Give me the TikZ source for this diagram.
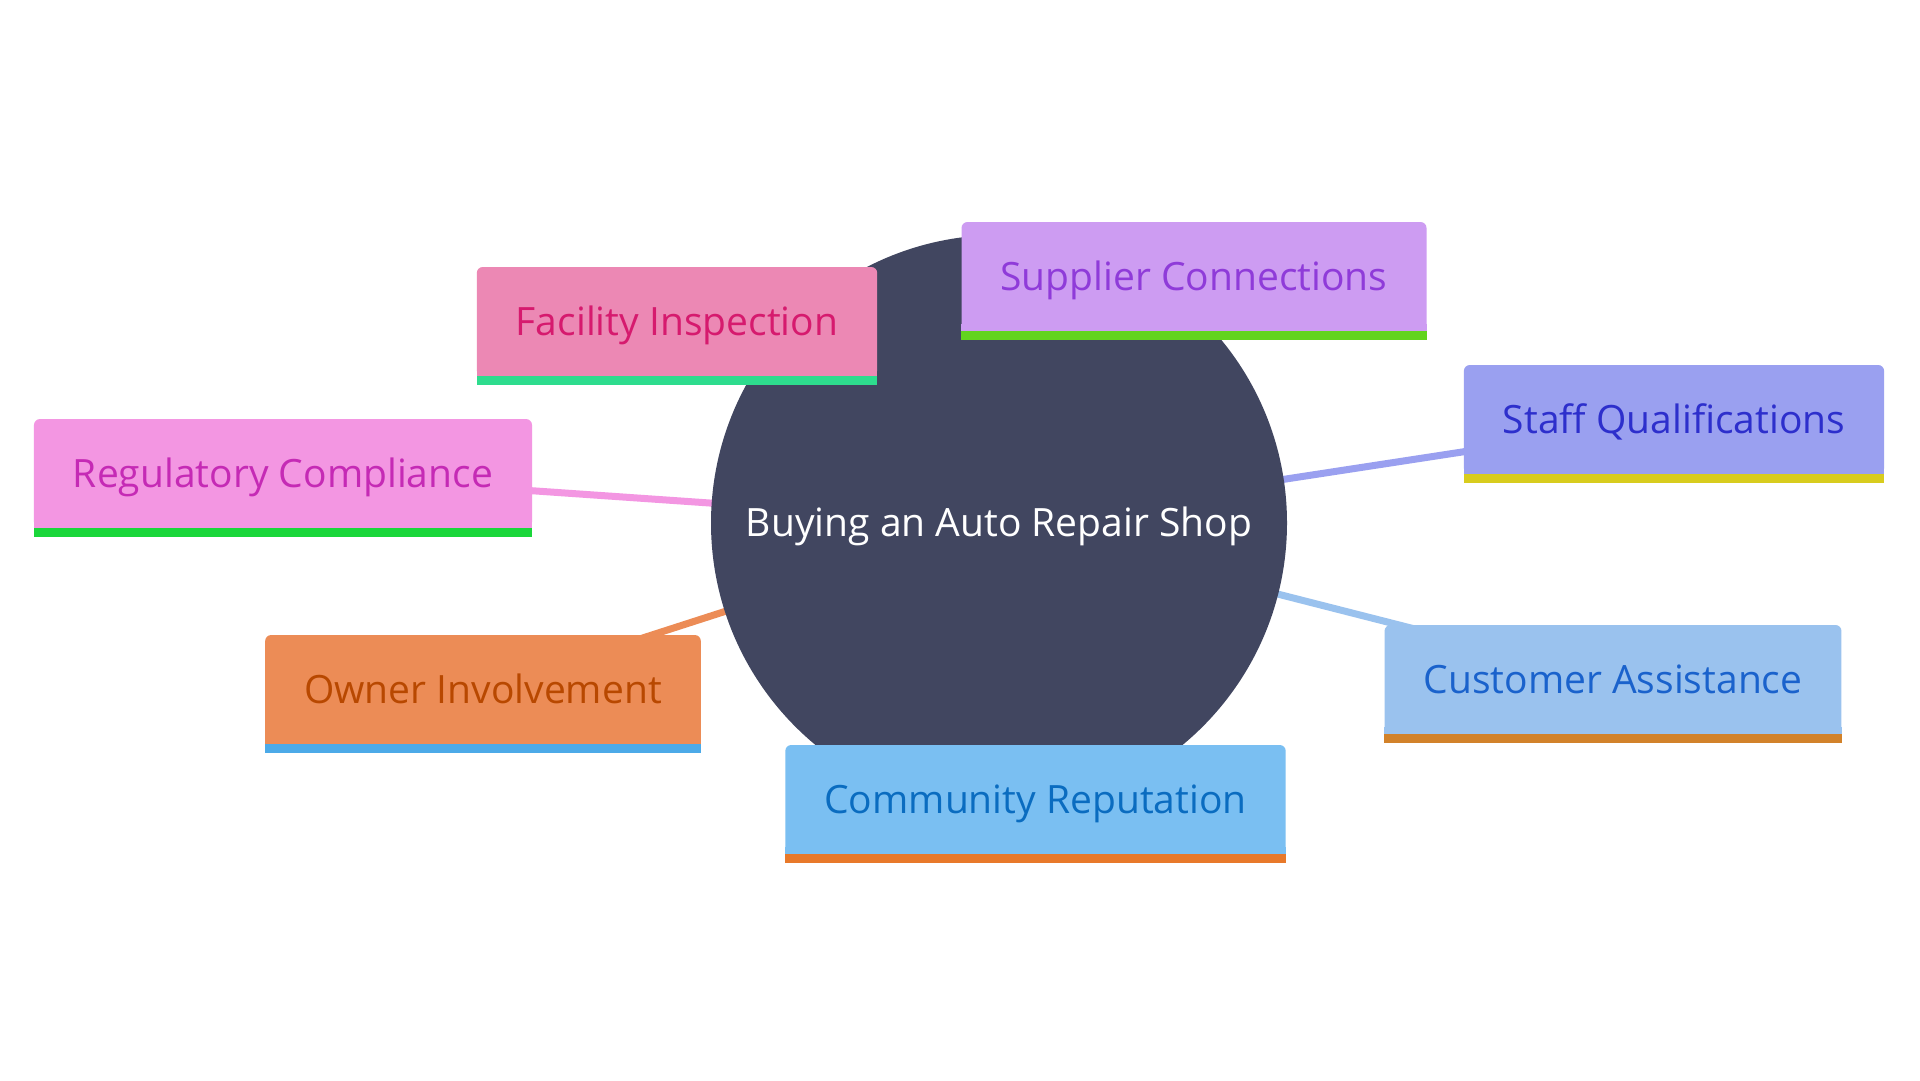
\documentclass[tikz,border=0pt]{standalone}
\usepackage{fontspec}
\setmainfont{Open Sans}
\usetikzlibrary{backgrounds}

\definecolor{hubfill}{HTML}{414660}
\definecolor{facfill}{HTML}{EC88B4}\definecolor{factext}{HTML}{D61A6E}\definecolor{facbar}{HTML}{2EDC8E}
\definecolor{supfill}{HTML}{CD9CF2}\definecolor{suptext}{HTML}{8F3BD9}\definecolor{supbar}{HTML}{62D41E}
\definecolor{regfill}{HTML}{F396E2}\definecolor{regtext}{HTML}{C52AB5}\definecolor{regbar}{HTML}{1AD63A}
\definecolor{staffill}{HTML}{9AA0F0}\definecolor{staftext}{HTML}{2D2FCC}\definecolor{stafbar}{HTML}{D8CC1E}
\definecolor{ownfill}{HTML}{EC8C56}\definecolor{owntext}{HTML}{B84800}\definecolor{ownbar}{HTML}{4CAAE8}
\definecolor{custfill}{HTML}{9AC2EE}\definecolor{custtext}{HTML}{1A62CC}\definecolor{custbar}{HTML}{D2822A}
\definecolor{comfill}{HTML}{7ABFF2}\definecolor{comtext}{HTML}{0A6CC0}\definecolor{combar}{HTML}{E8792A}

\begin{document}
\begin{tikzpicture}[
  x=1pt, y=-1pt,
  every node/.style={font=\fontsize{39}{46}\selectfont},
  hub/.style={circle, fill=hubfill, text=white, minimum size=576pt, inner sep=0pt,
    text height=27pt, text depth=0pt},
  topic/.style={rectangle, rounded corners=6pt, inner xsep=39pt, inner ysep=0pt,
    minimum height=109pt, text height=27pt, text depth=0pt},
  link/.style={line width=7pt}
]
\useasboundingbox (0,0) rectangle (1920,1080);

\node[hub] (hub) at (999,523) {Buying an Auto Repair Shop};

\node[topic, fill=facfill, text=factext] (fac) at (677,321.5) {Facility Inspection};
\node[topic, fill=supfill, text=suptext] (sup) at (1194,276.5) {Supplier Connections};
\node[topic, fill=regfill, text=regtext] (reg) at (283,473.5) {Regulatory Compliance};
\node[topic, fill=staffill, text=staftext] (staf) at (1674,419.5) {Staff Qualifications};
\node[topic, fill=ownfill, text=owntext] (own) at (483,689.5) {Owner Involvement};
\node[topic, fill=custfill, text=custtext] (cust) at (1613,679.5) {Customer Assistance};
\node[topic, fill=comfill, text=comtext] (com) at (1035.5,799.5) {Community Reputation};

% square off the lower corners and add the coloured strip
\foreach \n/\f/\c in {fac/facfill/facbar, sup/supfill/supbar, reg/regfill/regbar,
                      staf/staffill/stafbar, own/ownfill/ownbar,
                      cust/custfill/custbar, com/comfill/combar}
{
  \fill[\f] ([yshift=7pt]\n.south west) rectangle ([xshift=7pt]\n.south west);
  \fill[\f] ([yshift=7pt]\n.south east) rectangle ([xshift=-7pt]\n.south east);
  \fill[\c] (\n.south west) rectangle ([yshift=-9pt]\n.south east);
}

% links sit behind the hub and the topics
\begin{pgfonlayer}{background}
\fill[white] (0,0) rectangle (1920,1080);
\foreach \n/\c in {fac/facfill, sup/supfill, reg/regfill, staf/staffill,
                   own/ownfill, cust/custfill, com/comfill}
  \draw[link, \c] (hub.center) -- (\n.center);
\end{pgfonlayer}
\end{tikzpicture}
\end{document}
